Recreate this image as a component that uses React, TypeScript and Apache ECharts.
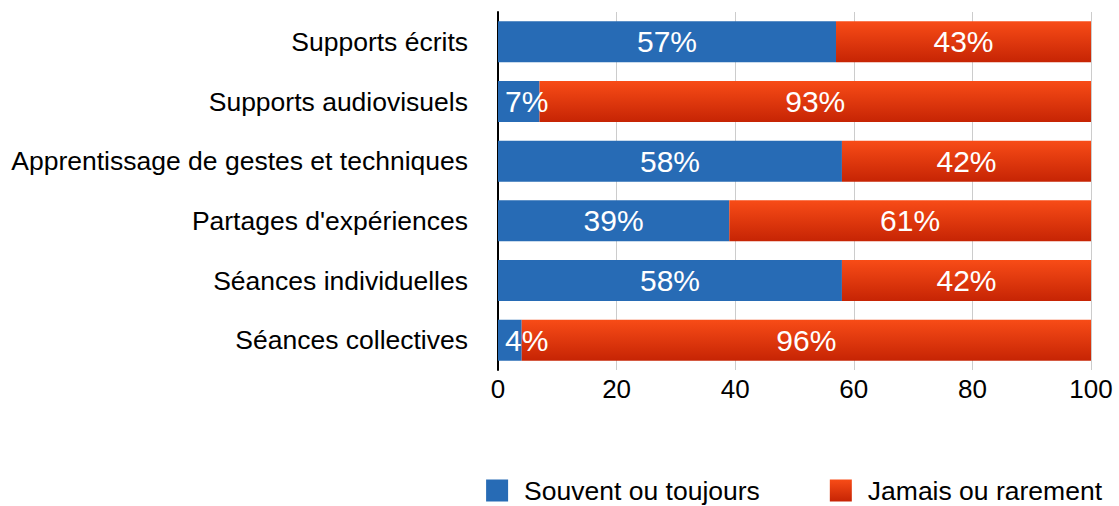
import React, { useEffect, useRef } from "react";
import * as echarts from "echarts";

const categories = [
  "Supports écrits",
  "Supports audiovisuels",
  "Apprentissage de gestes et techniques",
  "Partages d'expériences",
  "Séances individuelles",
  "Séances collectives",
];
const souvent = [57, 7, 58, 39, 58, 4];
const jamais = [43, 93, 42, 61, 42, 96];
const seriesNames = ["Souvent ou toujours", "Jamais ou rarement"];
const xTicks = [0, 20, 40, 60, 80, 100];

const FONT = "'Liberation Sans', Helvetica, Arial, sans-serif";

export default function App() {
  const ref = useRef<HTMLDivElement>(null);
  useEffect(() => {
    if (!ref.current) return;
    const chart = echarts.init(ref.current, null, { renderer: "svg" });
    const redGrad = new echarts.graphic.LinearGradient(0, 0, 0, 1, [
      { offset: 0, color: "#F84C17" },
      { offset: 1, color: "#C62404" },
    ]);
    const label = {
      show: true,
      position: "inside" as const,
      color: "#ffffff",
      fontSize: 30,
      fontFamily: FONT,
      formatter: (p: any) => `${p.value}%`,
    };
    const toData = (vals: number[]) =>
      vals.map((v) =>
        v < 10 ? { value: v, label: { position: "insideLeft" as const, distance: 7 } } : v
      );
    chart.setOption({
      animation: false,
      textStyle: { fontFamily: FONT },
      grid: { left: 498, right: 28, top: 12, bottom: 136, containLabel: false },
      legend: {
        right: 12,
        top: 472,
        itemWidth: 22,
        itemHeight: 22,
        itemGap: 70,
        icon: "rect",
        textStyle: { fontSize: 26.5, color: "#000", fontFamily: FONT, padding: [0, 0, 0, 11] },
        data: seriesNames,
      },
      xAxis: {
        type: "value",
        min: 0,
        max: 100,
        interval: 20,
        axisLine: { show: false },
        axisTick: { show: false },
        splitLine: { show: true, lineStyle: { color: "#cccccc", width: 1 } },
        axisLabel: {
          fontSize: 26,
          color: "#000",
          margin: 6,
          formatter: (v: number) => (xTicks.includes(v) ? String(v) : ""),
        },
      },
      yAxis: {
        type: "category",
        data: categories,
        inverse: true,
        axisLine: { show: true, lineStyle: { color: "#000", width: 2 } },
        axisTick: { show: false },
        axisLabel: { fontSize: 26.5, color: "#000", margin: 30 },
      },
      series: [
        {
          name: seriesNames[0],
          type: "bar",
          stack: "total",
          barWidth: 41,
          data: toData(souvent),
          itemStyle: { color: "#276BB5" },
          label,
        },
        {
          name: seriesNames[1],
          type: "bar",
          stack: "total",
          barWidth: 41,
          data: toData(jamais),
          itemStyle: { color: redGrad },
          label,
        },
      ],
    });
    return () => chart.dispose();
  }, []);
  return (
    <div
      ref={ref}
      style={{ position: "fixed", left: 0, top: 0, width: 1119, height: 506, background: "#fff" }}
    />
  );
}
